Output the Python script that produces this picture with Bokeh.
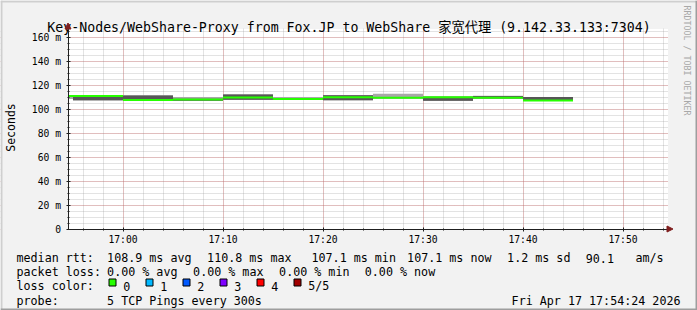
import math
from bokeh.plotting import figure
from bokeh.models import (FixedTicker, Range1d, Arrow, NormalHead, ColumnDataSource)
from bokeh.core.properties import value
from bokeh.embed import file_html
from bokeh.resources import INLINE

# ---------------- data ----------------
TITLE = "Key-Nodes/WebShare-Proxy from Fox.JP to WebShare 家宽代理 (9.142.33.133:7304)"
Y_LABEL = "Seconds"
WATERMARK = "RRDTOOL / TOBI OETIKER"
TIMESTAMP = "Fri Apr 17 17:54:24 2026"

# end time of each 5-minute sample (each sample covers the preceding 300 s)
times = ["16:55", "17:00", "17:05", "17:10", "17:15", "17:20",
         "17:25", "17:30", "17:35", "17:40", "17:45"]
# 5 sorted pings per sample (ms); ping_3 is the median
ping_1 = [108.3, 107.0, 107.2, 106.7, 107.5, 107.8, 107.2, 108.8, 106.6, 108.5, 106.9]
ping_2 = [110.6, 107.2, 107.4, 106.8, 107.7, 108.0, 107.3, 109.0, 106.8, 108.7, 107.0]
ping_3 = [110.8, 110.8, 107.5, 108.0, 109.6, 108.3, 109.8, 109.3, 109.8, 109.3, 107.1]
ping_4 = [110.9, 110.9, 111.3, 108.6, 112.0, 108.5, 111.4, 109.6, 110.2, 110.8, 109.9]
ping_5 = [111.0, 111.0, 111.5, 110.0, 112.2, 110.0, 111.6, 112.8, 110.4, 111.0, 110.1]
lost = [0, 0, 0, 0, 0, 0, 0, 0, 0, 0, 0]

step_minutes = 5
x_tick_labels = ["17:00", "17:10", "17:20", "17:30", "17:40", "17:50"]
y_tick_values = [0, 20, 40, 60, 80, 100, 120, 140, 160]
y_tick_labels = ["0", "20 m", "40 m", "60 m", "80 m", "100 m", "120 m", "140 m", "160 m"]

x_start_time, x_end_time = "16:54:30", "17:54:30"
y_max = 166.67

loss_labels = ["0", "1", "2", "3", "4", "5/5"]
loss_colors = ["#26ff00", "#00b8ff", "#0059ff", "#7e00ff", "#ff0000", "#a10000"]

legend_rows = [
    ["median rtt:", "108.9 ms avg", "110.8 ms max", "107.1 ms min",
     "107.1 ms now", "1.2 ms sd", "90.1", "am/s"],
    ["packet loss:", "0.00 % avg", "0.00 % max", "0.00 % min", "0.00 % now"],
    ["loss color:"],
    ["probe:", "5 TCP Pings every 300s"],
]

# ---------------- layout (canvas pixels) ----------------
W, H = 697, 310
PL, PR, PT, PB = 67.5, 667.5, 28.5, 228.5   # graph area edges (half-pixel for crisp lines)
MONO = "DejaVu Sans Mono, Noto Sans CJK SC"


def to_min(s):
    parts = [float(v) for v in s.split(":")]
    m = parts[0] * 60 + parts[1]
    if len(parts) > 2:
        m += parts[2] / 60.0
    return m


xs, xe = to_min(x_start_time), to_min(x_end_time)
ys, ye = 0.0, y_max
kx = (PR - PL) / (xe - xs)      # px per minute
ky = (PB - PT) / (ye - ys)      # px per ms


def dx(px):
    return xs + (px - PL) / kx


def dy(py):
    return ys + (PB - py) / ky


p = figure(width=W, height=H, x_range=Range1d(dx(0), dx(W)),
           y_range=Range1d(dy(H), dy(0)), output_backend="svg",
           toolbar_location=None, min_border=0)
p.title = None
p.outline_line_color = None
p.background_fill_color = "#f2f2f2"
p.border_fill_color = "#f2f2f2"

# white canvas of the graph (under the grid)
p.quad(left=[xs], right=[xe], bottom=[ys], top=[ye], fill_color="#ffffff",
       line_color=None, level="underlay")

# grid
for g in (p.xgrid, p.ygrid):
    g.grid_line_color = "#de4f4f"
    g.grid_line_alpha = 0.5
    g.grid_line_dash = "1 1"
    g.minor_grid_line_color = "#8f8f8f"
    g.minor_grid_line_alpha = 0.5
    g.minor_grid_line_dash = "1 1"

# mask grid lines outside of the graph area
mask = dict(l=[dx(0), dx(PR), dx(0), dx(0)], r=[dx(PL), dx(W), dx(W), dx(W)],
            b=[dy(H), dy(H), dy(PT - 0.5), dy(H)], t=[dy(0), dy(0), dy(0), dy(PB + 0.5)])
p.quad(left="l", right="r", bottom="b", top="t", source=ColumnDataSource(mask),
       fill_color="#f2f2f2", line_color=None)

# smoke + median
t_end = [to_min(t) for t in times]
t_beg = [max(t - step_minutes, xs) for t in t_end]
src = ColumnDataSource(dict(l=t_beg, r=t_end, p1=ping_1, p2=ping_2, p3=ping_3,
                            p4=ping_4, p5=ping_5,
                            c=[loss_colors[min(v, 5)] for v in lost]))
p.quad(left="l", right="r", bottom="p1", top="p5", source=src,
       fill_color="#a8a8a8", line_color=None)
p.quad(left="l", right="r", bottom="p2", top="p4", source=src,
       fill_color="#575757", line_color=None)
p.segment(x0="l", x1="r", y0="p3", y1="p3", source=src, line_color="c",
          line_width=2)

# axes
x_ticks = [to_min(s) for s in x_tick_labels]
x_minor = [x_ticks[0] - 4 + 2 * i for i in range(30)]
p.xaxis.ticker = FixedTicker(ticks=x_ticks, minor_ticks=x_minor)
p.xaxis.major_label_overrides = {t: s for t, s in zip(x_ticks, x_tick_labels)}
p.xaxis.fixed_location = ys
p.xaxis.bounds = (xs, xe)
y_minor = [5 * i for i in range(34)]
p.yaxis.ticker = FixedTicker(ticks=y_tick_values, minor_ticks=y_minor)
p.yaxis.major_label_overrides = {t: s for t, s in zip(y_tick_values, y_tick_labels)}
p.yaxis.fixed_location = xs
p.yaxis.bounds = (ys, ye)

for ax in (p.xaxis, p.yaxis):
    ax.axis_line_color = "#1f1f1f"
    ax.major_tick_line_color = "#1f1f1f"
    ax.minor_tick_line_color = "#1f1f1f"
    ax.major_tick_out = 2
    ax.major_tick_in = 2
    ax.minor_tick_out = 1
    ax.minor_tick_in = 1
    ax.major_label_text_font = MONO
    ax.major_label_text_font_size = "9.7px"
    ax.major_label_text_color = "#000000"
p.xaxis.major_label_standoff = 3
p.yaxis.major_label_standoff = 5

# arrows at axis ends
p.add_layout(Arrow(end=NormalHead(size=6, fill_color="#801f1f", line_color="#801f1f"),
                   x_start=xe, y_start=ys, x_end=dx(PR + 5), y_end=ys,
                   line_color="#1f1f1f", line_width=1))
p.add_layout(Arrow(end=NormalHead(size=6, fill_color="#801f1f", line_color="#801f1f"),
                   x_start=xs, y_start=ye, x_end=xs, y_end=dy(PT - 6),
                   line_color="#1f1f1f", line_width=1))


# ---------------- texts ----------------
def label(text, x, y, size="11.7px", align="left", baseline="alphabetic",
          color="#000000", angle=0.0):
    p.text(x=[dx(x)], y=[dy(y)], text=[text], text_font=value(MONO),
           text_font_size=value(size), text_align=align,
           text_baseline=baseline, text_color=color, angle=angle)


label(TITLE, W / 2, 26.5, size="13.25px", align="center")
label(Y_LABEL, 10, 127, size="11.5px", align="center", baseline="middle",
      angle=math.pi / 2)
label(WATERMARK, 686, 5, size="8.3px", align="left", baseline="middle",
      color="#a8a8a8", angle=-math.pi / 2)

row_y = [257.5, 271.7, 285.9, 300.1]
row_x = [
    [16, 106.6, 206.6, 311.0, 406.6, 506.6, 585.3, 635.0],
    [16, 106.6, 192.6, 278.6, 364.3],
    [16],
    [16, 106.6],
]
for items, xs_, y in zip(legend_rows, row_x, row_y):
    for txt, x in zip(items, xs_):
        label(txt, x, y)
label(TIMESTAMP, 680, row_y[3], align="right")

box_x = [108.5, 145.5, 182.5, 219.5, 256.5, 293.5]
p.quad(left=[dx(b) for b in box_x], right=[dx(b + 7) for b in box_x],
       top=[dy(278.5)] * len(box_x), bottom=[dy(285.5)] * len(box_x),
       fill_color=loss_colors, line_color="#000000", line_width=1)
for bx, lab in zip(box_x, loss_labels):
    label(lab, bx + 14.3, row_y[2])

# 3D frame around the picture
frame = dict(l=[dx(0), dx(0), dx(0), dx(W - 2)], r=[dx(W), dx(2), dx(W), dx(W)],
             t=[dy(0), dy(0), dy(H - 2), dy(0)], b=[dy(2), dy(H), dy(H), dy(H)],
             c=["#cfcfcf", "#cfcfcf", "#9e9e9e", "#9e9e9e"])
p.quad(left="l", right="r", top="t", bottom="b", fill_color="c", line_color=None,
       source=ColumnDataSource(frame))

open("out.html", "w").write(file_html(p, INLINE))
